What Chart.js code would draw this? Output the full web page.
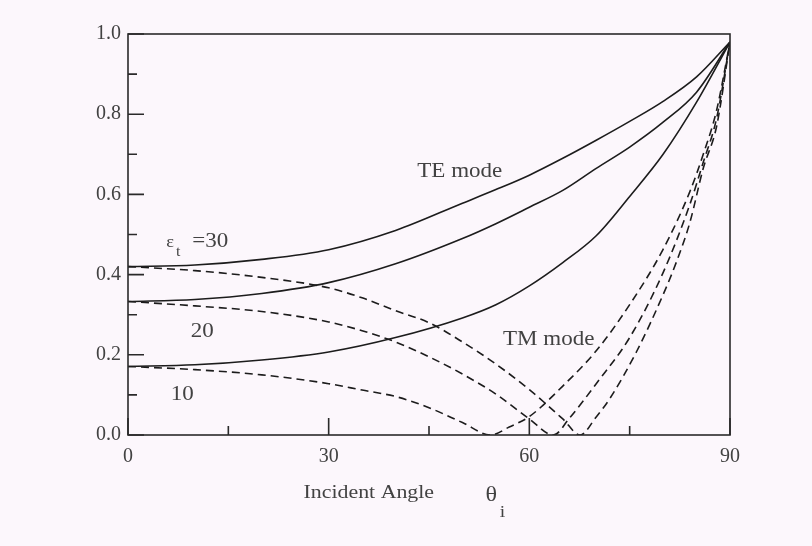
<!DOCTYPE html>
<html>
<head>
<meta charset="utf-8">
<title>Reflection coefficient vs incident angle</title>
<script src="https://cdn.jsdelivr.net/npm/chart.js@4.4.1/dist/chart.umd.min.js"></script>
<style>
  html, body { margin: 0; padding: 0; background: #fcf7fc; }
  #wrap { width: 812px; height: 546px; }
</style>
</head>
<body>
<div id="wrap"><canvas id="c" width="812" height="546"></canvas></div>
<script>
// Incident angle (degrees) for the TE curves
const angleTE = [0, 10, 20, 30, 40, 50, 55, 60, 65, 70, 75, 80, 85, 90];
// |reflection coefficient|, TE mode
const te30 = [0.42, 0.424, 0.438, 0.462, 0.51, 0.578, 0.612, 0.648, 0.69, 0.735, 0.782, 0.832, 0.893, 0.98];
const te20 = [0.333, 0.338, 0.353, 0.38, 0.427, 0.49, 0.527, 0.568, 0.61, 0.665, 0.718, 0.78, 0.855, 0.98];
const te10 = [0.171, 0.175, 0.187, 0.207, 0.243, 0.292, 0.325, 0.372, 0.43, 0.497, 0.595, 0.70, 0.83, 0.98];

// TM mode: each curve has its own angle samples (dense around its zero)
const angleTM30 = [0, 10, 20, 30, 35, 40, 45, 50, 55, 60, 65, 67.6, 70, 72, 76, 80, 82, 84, 86, 88, 90];
const tm30 = [0.42, 0.41, 0.393, 0.367, 0.342, 0.31, 0.28, 0.232, 0.177, 0.113, 0.04, 0, 0.045, 0.09, 0.207, 0.35, 0.432, 0.53, 0.665, 0.77, 0.98];
const angleTM20 = [0, 10, 20, 30, 35, 40, 45, 50, 55, 60, 63.6, 66, 70, 75, 80, 84, 86, 88, 90];
const tm20 = [0.333, 0.322, 0.308, 0.282, 0.26, 0.232, 0.195, 0.152, 0.102, 0.04, 0, 0.042, 0.128, 0.243, 0.405, 0.575, 0.68, 0.79, 0.98];
const angleTM10 = [0, 10, 20, 30, 35, 40, 45, 50, 54.2, 57, 60, 65, 70, 75, 80, 84, 86, 88, 90];
const tm10 = [0.171, 0.163, 0.15, 0.128, 0.112, 0.096, 0.068, 0.031, 0, 0.02, 0.046, 0.122, 0.21, 0.325, 0.463, 0.607, 0.70, 0.81, 0.98];

// Axis ticks
const xMajor = [0, 30, 60, 90];
const xMinor = [15, 45, 75];
const yMajor = [0, 0.2, 0.4, 0.6, 0.8, 1.0];
const yMinor = [0.1, 0.3, 0.5, 0.7, 0.9];

const INK = '#1c1c1c';
const TEXT = '#424242';
const SERIF = "'Liberation Serif', 'DejaVu Serif', serif";

function pts(xs, ys) { return xs.map((x, i) => ({ x: x, y: ys[i] })); }
function line(label, xs, ys, dashed) {
  return {
    label: label,
    data: pts(xs, ys),
    borderColor: INK,
    borderWidth: 1.6,
    borderDash: dashed ? [8, 5] : [],
    pointRadius: 0,
    fill: false,
    cubicInterpolationMode: 'monotone'
  };
}

// Page background
const bgPlugin = {
  id: 'bg',
  beforeDraw(chart) {
    const ctx = chart.ctx;
    ctx.save();
    ctx.fillStyle = '#fcf7fc';
    ctx.fillRect(0, 0, chart.width, chart.height);
    ctx.restore();
  }
};

// Boxed frame with inward-pointing tick marks, plus in-plot labels
const framePlugin = {
  id: 'frame',
  afterDatasetsDraw(chart) {
    const ctx = chart.ctx;
    const a = chart.chartArea;
    const xs = chart.scales.x, ys = chart.scales.y;
    ctx.save();
    ctx.strokeStyle = '#2a2a2a';
    ctx.lineWidth = 1.6;
    ctx.strokeRect(a.left, a.top, a.right - a.left, a.bottom - a.top);

    ctx.beginPath();
    yMajor.forEach(v => { const y = ys.getPixelForValue(v); ctx.moveTo(a.left, y); ctx.lineTo(a.left + 16, y); });
    yMinor.forEach(v => { const y = ys.getPixelForValue(v); ctx.moveTo(a.left, y); ctx.lineTo(a.left + 9, y); });
    xMajor.forEach(v => { const x = xs.getPixelForValue(v); ctx.moveTo(x, a.bottom); ctx.lineTo(x, a.bottom - 17); });
    xMinor.forEach(v => { const x = xs.getPixelForValue(v); ctx.moveTo(x, a.bottom); ctx.lineTo(x, a.bottom - 9); });
    ctx.stroke();

    // text helper: horizontally widened serif text
    function txt(s, px, py, size, align) {
      ctx.save();
      ctx.translate(px, py);
      ctx.scale(1.15, 1);
      ctx.font = size + 'px ' + SERIF;
      ctx.fillStyle = TEXT;
      ctx.textAlign = align || 'center';
      ctx.textBaseline = 'middle';
      ctx.fillText(s, 0, 0);
      ctx.restore();
    }
    const X = v => xs.getPixelForValue(v);
    const Y = v => ys.getPixelForValue(v);

    txt('TE mode', X(49.6), Y(0.656), 20);
    txt('TM mode', X(62.9), Y(0.238), 20);
    txt('20', X(11.1), Y(0.258), 20);
    txt('10', X(8.1), Y(0.10), 20);
    txt('\u03B5', X(6.3), Y(0.48), 16);
    txt('t', X(7.5), Y(0.455), 14);
    txt('=30', X(12.3), Y(0.482), 20);

    // axis title below the frame
    txt('Incident Angle', X(36), a.bottom + 58, 19);
    txt('\u03B8', X(54.3), a.bottom + 60, 21);
    txt('i', X(56.0), a.bottom + 78, 17);
    ctx.restore();
  }
};

new Chart(document.getElementById('c'), {
  type: 'line',
  data: {
    datasets: [
      line('TE \u03B5=30', angleTE, te30, false),
      line('TE \u03B5=20', angleTE, te20, false),
      line('TE \u03B5=10', angleTE, te10, false),
      line('TM \u03B5=30', angleTM30, tm30, true),
      line('TM \u03B5=20', angleTM20, tm20, true),
      line('TM \u03B5=10', angleTM10, tm10, true)
    ]
  },
  options: {
    responsive: false,
    animation: false,
    layout: { padding: { left: 0, top: 34, right: 82, bottom: 0 } },
    plugins: { legend: { display: false }, tooltip: { enabled: false } },
    scales: {
      x: {
        type: 'linear', min: 0, max: 90,
        afterBuildTicks(s) { s.ticks = xMajor.map(v => ({ value: v })); },
        ticks: { font: { family: SERIF, size: 20 }, color: TEXT, padding: 10, maxRotation: 0, autoSkip: false,
                 callback: v => String(v) },
        grid: { display: false, drawTicks: false },
        border: { display: false },
        afterFit(s) { s.height = 111; }
      },
      y: {
        type: 'linear', min: 0, max: 1,
        afterBuildTicks(s) { s.ticks = yMajor.map(v => ({ value: v })); },
        ticks: { font: { family: SERIF, size: 20 }, color: TEXT, padding: 7, autoSkip: false,
                 callback: v => Number(v).toFixed(1) },
        grid: { display: false, drawTicks: false },
        border: { display: false },
        afterFit(s) { s.width = 128; }
      }
    }
  },
  plugins: [bgPlugin, framePlugin]
});
</script>
</body>
</html>
